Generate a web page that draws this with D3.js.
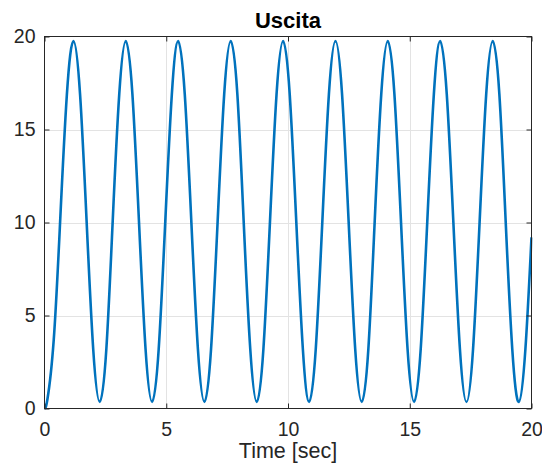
<!DOCTYPE html>
<html>
<head>
<meta charset="utf-8">
<script src="https://cdn.jsdelivr.net/npm/d3@7"></script>
<style>
  html, body { margin: 0; padding: 0; background: #fff; }
  svg { display: block; font-family: "Liberation Sans", Arial, Helvetica, sans-serif; }
</style>
</head>
<body>
<svg id="chart" width="542" height="470"></svg>
<script>
// ---- data ----
const titleText = "Uscita";
const xLabelText = "Time [sec]";
const xTicks = [0, 5, 10, 15, 20];
const yTicks = [0, 5, 10, 15, 20];

const timeSec = [
  0, 0.12, 0.38, 0.64, 0.92, 1.19,
  1.46, 1.73, 2.0, 2.27, 2.54, 2.8, 3.07, 3.34,
  3.61, 3.88, 4.15, 4.42, 4.69, 4.96, 5.23, 5.49,
  5.76, 6.03, 6.3, 6.57, 6.84, 7.11, 7.38, 7.65,
  7.92, 8.18, 8.45, 8.72, 8.99, 9.26, 9.53, 9.8,
  10.07, 10.34, 10.61, 10.87, 11.14, 11.41, 11.68, 11.95,
  12.22, 12.49, 12.76, 13.03, 13.3, 13.56, 13.83, 14.1,
  14.37, 14.64, 14.91, 15.18, 15.45, 15.72, 15.99, 16.25,
  16.52, 16.79, 17.06, 17.33, 17.6, 17.87, 18.14, 18.41,
  18.68, 18.94, 19.21, 19.48, 19.75, 20.0
];
const output = [
  0, 0.5, 3.7, 10.0, 16.9, 19.75,
  16.9, 10.05, 3.2, 0.35, 3.2, 10.05, 16.9, 19.75,
  16.9, 10.05, 3.2, 0.35, 3.2, 10.05, 16.9, 19.75,
  16.9, 10.05, 3.2, 0.35, 3.2, 10.05, 16.9, 19.75,
  16.9, 10.05, 3.2, 0.35, 3.2, 10.05, 16.9, 19.75,
  16.9, 10.05, 3.2, 0.35, 3.2, 10.05, 16.9, 19.75,
  16.9, 10.05, 3.2, 0.35, 3.2, 10.05, 16.9, 19.75,
  16.9, 10.05, 3.2, 0.35, 3.2, 10.05, 16.9, 19.75,
  16.9, 10.05, 3.2, 0.35, 3.2, 10.05, 16.9, 19.75,
  16.9, 10.05, 3.2, 0.35, 3.2, 9.2
];

// ---- layout ----
const mLeft = 44.5, mRight = 531.5, mTop = 36.5, mBottom = 408.5;
const axisColor = "#262626";
const gridColor = "#e3e3e3";
const lineColor = "#0072BD";

const svg = d3.select("#chart");
const x = d3.scaleLinear().domain([0, 20]).range([mLeft, mRight]);
const y = d3.scaleLinear().domain([0, 20]).range([mBottom, mTop]);

// grid
const grid = svg.append("g").attr("stroke", gridColor).attr("stroke-width", 1);
grid.selectAll("line.gx").data(xTicks.slice(1, -1)).join("line")
  .attr("x1", d => Math.round(x(d)) + 0.5).attr("x2", d => Math.round(x(d)) + 0.5)
  .attr("y1", mTop).attr("y2", mBottom);
grid.selectAll("line.gy").data(yTicks.slice(1, -1)).join("line")
  .attr("y1", d => Math.round(y(d)) + 0.5).attr("y2", d => Math.round(y(d)) + 0.5)
  .attr("x1", mLeft).attr("x2", mRight);

// clip
svg.append("defs").append("clipPath").attr("id", "clip")
  .append("rect").attr("x", mLeft - 1).attr("y", mTop - 1)
  .attr("width", mRight - mLeft + 2).attr("height", mBottom - mTop + 2);

// line
const pts = timeSec.map((t, i) => [t, output[i]]);
svg.append("path")
  .attr("clip-path", "url(#clip)")
  .attr("d", d3.line().x(d => x(d[0])).y(d => y(d[1])).curve(d3.curveNatural)(pts))
  .attr("fill", "none").attr("stroke", lineColor).attr("stroke-width", 2.6)
  .attr("stroke-linejoin", "round");

// axes
function styleAxis(g) {
  g.select(".domain").remove();
  g.selectAll(".tick line").attr("stroke", axisColor);
  g.selectAll(".tick text").attr("fill", axisColor).attr("font-size", "19.5px");
}
svg.append("g").attr("transform", `translate(0,${mBottom})`)
  .call(d3.axisBottom(x).tickValues(xTicks).tickSizeInner(-5).tickSizeOuter(0).tickPadding(14).tickFormat(d3.format("d")))
  .call(styleAxis);
svg.append("g").attr("transform", `translate(${mLeft},0)`)
  .call(d3.axisLeft(y).tickValues(yTicks).tickSizeInner(-5).tickSizeOuter(0).tickPadding(9).tickFormat(d3.format("d")))
  .call(styleAxis);
svg.append("g").attr("transform", `translate(0,${mTop})`)
  .call(d3.axisTop(x).tickValues(xTicks).tickSizeInner(-5).tickSizeOuter(0).tickFormat(""))
  .call(styleAxis);
svg.append("g").attr("transform", `translate(${mRight},0)`)
  .call(d3.axisRight(y).tickValues(yTicks).tickSizeInner(-5).tickSizeOuter(0).tickFormat(""))
  .call(styleAxis);

// box
svg.append("rect").attr("x", mLeft).attr("y", mTop)
  .attr("width", mRight - mLeft).attr("height", mBottom - mTop)
  .attr("fill", "none").attr("stroke", axisColor).attr("stroke-width", 1);

// title & label
svg.append("text").attr("x", (mLeft + mRight) / 2).attr("y", 27.5)
  .attr("text-anchor", "middle").attr("font-weight", "bold").attr("font-size", "22px")
  .attr("fill", "#000").text(titleText);
svg.append("text").attr("x", (mLeft + mRight) / 2).attr("y", 458)
  .attr("text-anchor", "middle").attr("font-size", "21.5px")
  .attr("fill", axisColor).text(xLabelText);
</script>
</body>
</html>
